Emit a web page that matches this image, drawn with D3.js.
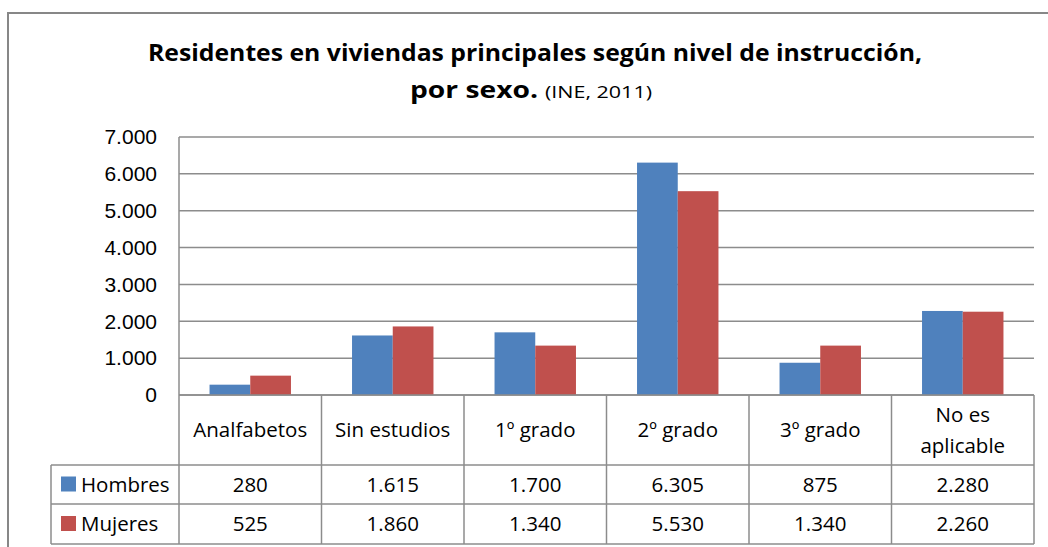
<!DOCTYPE html>
<html>
<head>
<meta charset="utf-8">
<script src="https://cdn.jsdelivr.net/npm/d3@7"></script>
<style>
  body { margin: 0; background: #fff; }
  svg { display: block; }
  text { font-family: "Open Sans", "Noto Sans", sans-serif; fill: #000; }
</style>
</head>
<body>
<div id="chart"></div>
<script>
// -- DATA -- //
const categories = ["Analfabetos", "Sin estudios", "1º grado", "2º grado", "3º grado", "No es aplicable"];
const categoryLines = [["Analfabetos"], ["Sin estudios"], ["1º grado"], ["2º grado"], ["3º grado"], ["No es", "aplicable"]];
const seriesNames = ["Hombres", "Mujeres"];
const hombres = [280, 1615, 1700, 6305, 875, 2280];
const mujeres = [525, 1860, 1340, 5530, 1340, 2260];
const yTicks = [0, 1000, 2000, 3000, 4000, 5000, 6000, 7000];
const colors = ["#4f81bd", "#c0504d"];

const seriesValues = [hombres, mujeres];

// number format with dots as thousands separator
const locale = d3.formatLocale({ decimal: ",", thousands: ".", grouping: [3], currency: ["", ""] });
const fmt = locale.format(",d");

const width = 1048, height = 547;
const plot = { left: 179, right: 1034, top: 137, bottom: 395 };
const rowTops = [395, 465, 504, 544]; // category row top, hombres row top, mujeres row top, table bottom
const legendLeft = 51;
const gridColor = "#8c8c8c";
const tableFont = 20.5;

const svg = d3.select("#chart").append("svg").attr("width", width).attr("height", height);

// outer frame (runs off the right and bottom edges)
svg.append("rect")
  .attr("x", 8).attr("y", 13)
  .attr("width", 1200).attr("height", 700)
  .attr("fill", "none").attr("stroke", "#878787").attr("stroke-width", 2);

// -- TITLE -- //
svg.append("text")
  .attr("x", 535).attr("y", 61)
  .attr("text-anchor", "middle")
  .attr("font-size", 23).attr("font-weight", "bold")
  .attr("textLength", 774).attr("lengthAdjust", "spacingAndGlyphs")
  .text("Residentes en viviendas principales según nivel de instrucción,");

const t2 = svg.append("text").attr("x", 410).attr("y", 98);
t2.append("tspan").attr("font-size", 23).attr("font-weight", "bold")
  .attr("textLength", 128).attr("lengthAdjust", "spacingAndGlyphs")
  .text("por sexo.");
t2.append("tspan").attr("dx", 7).attr("font-size", 16)
  .attr("textLength", 107).attr("lengthAdjust", "spacingAndGlyphs")
  .text("(INE, 2011)");

// -- SCALES -- //
const x = d3.scaleBand().domain(categories).range([plot.left, plot.right]).padding(0);
const bw = x.bandwidth();
// gap width 150% of a bar, group centered in its category
const barW = bw / 3.5;
const x1 = d3.scaleBand().domain(seriesNames).range([barW * 0.75, barW * 2.75]);

const y = d3.scaleLinear().domain([0, 7000]).range([plot.bottom, plot.top]);

// gridlines
svg.append("g")
  .selectAll("line")
  .data(yTicks)
  .join("line")
  .attr("x1", plot.left).attr("x2", plot.right)
  .attr("y1", d => y(d)).attr("y2", d => y(d))
  .attr("stroke", gridColor).attr("stroke-width", 1.5);

// y axis labels
const yAxis = svg.append("g")
  .attr("transform", `translate(${plot.left},0)`)
  .call(d3.axisLeft(y).tickValues(yTicks).tickFormat(fmt).tickSize(0).tickPadding(22));
yAxis.select(".domain").remove();
yAxis.selectAll("text")
  .style("font-family", "'Liberation Sans', Arial, sans-serif")
  .attr("font-size", 21).attr("fill", "#000");

// left axis line
svg.append("line")
  .attr("x1", plot.left).attr("x2", plot.left)
  .attr("y1", plot.top).attr("y2", plot.bottom)
  .attr("stroke", gridColor).attr("stroke-width", 1.5);

// -- BARS -- //
const groups = svg.append("g")
  .selectAll("g")
  .data(categories)
  .join("g")
  .attr("transform", d => `translate(${x(d)},0)`);

groups.selectAll("rect")
  .data((d, i) => seriesNames.map((s, j) => ({ s, v: seriesValues[j][i], c: colors[j] })))
  .join("rect")
  .attr("x", d => x1(d.s))
  .attr("width", x1.bandwidth())
  .attr("y", d => y(d.v))
  .attr("height", d => y(0) - y(d.v))
  .attr("fill", d => d.c);

// -- DATA TABLE -- //
const table = svg.append("g").attr("stroke", gridColor).attr("stroke-width", 1.5);

// horizontal lines
table.append("line").attr("x1", plot.left).attr("x2", plot.right).attr("y1", rowTops[0]).attr("y2", rowTops[0]);
[rowTops[1], rowTops[2], rowTops[3]].forEach(yy => {
  table.append("line").attr("x1", legendLeft).attr("x2", plot.right).attr("y1", yy).attr("y2", yy);
});
// vertical lines
const bounds = categories.map(c => x(c)).concat([plot.right]);
table.selectAll(".v")
  .data(bounds)
  .join("line")
  .attr("x1", d => d).attr("x2", d => d)
  .attr("y1", rowTops[0]).attr("y2", rowTops[3]);
table.append("line").attr("x1", legendLeft).attr("x2", legendLeft).attr("y1", rowTops[1]).attr("y2", rowTops[3]);

// category labels
const catText = svg.append("g")
  .selectAll("text")
  .data(categoryLines)
  .join("text")
  .attr("text-anchor", "middle")
  .attr("font-size", tableFont)
  .attr("fill", "#111");
catText.each(function (lines, i) {
  const cx = x(categories[i]) + bw / 2;
  const mid = (rowTops[0] + rowTops[1]) / 2;
  const lh = 31;
  lines.forEach((l, k) => {
    d3.select(this).append("tspan")
      .attr("x", cx)
      .attr("y", mid + 7 + (k - (lines.length - 1) / 2) * lh)
      .text(l);
  });
});

// legend rows + values
seriesNames.forEach((s, j) => {
  const top = rowTops[j + 1], bot = rowTops[j + 2];
  const mid = (top + bot) / 2;
  svg.append("rect")
    .attr("x", 61).attr("y", mid - 8)
    .attr("width", 15).attr("height", 15)
    .attr("fill", colors[j]);
  svg.append("text")
    .attr("x", 81).attr("y", mid + 7)
    .attr("font-size", tableFont).attr("fill", "#111")
    .text(s);
  svg.append("g")
    .selectAll("text")
    .data(seriesValues[j])
    .join("text")
    .attr("x", (d, i) => x(categories[i]) + bw / 2)
    .attr("y", mid + 7)
    .attr("text-anchor", "middle")
    .attr("font-size", tableFont).attr("fill", "#111")
    .text(d => fmt(d));
});
</script>
</body>
</html>
